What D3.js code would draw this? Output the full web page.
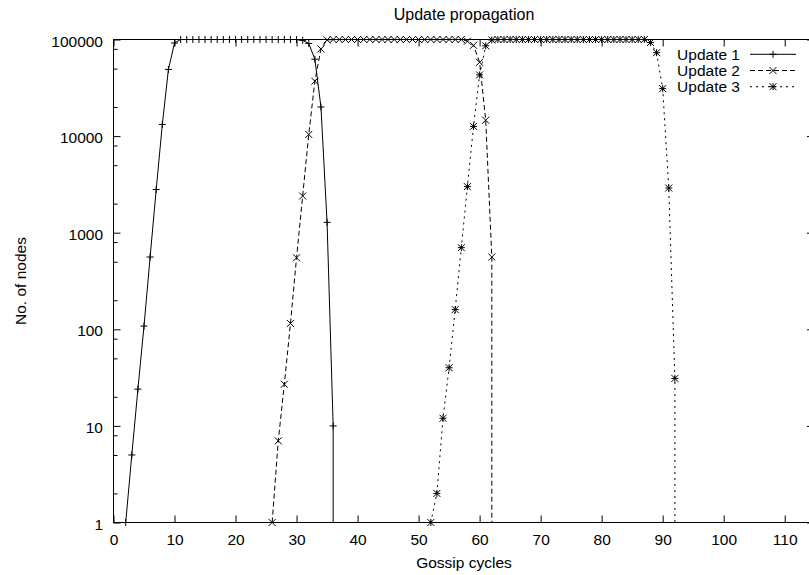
<!DOCTYPE html>
<html>
<head>
<meta charset="utf-8">
<script src="https://cdn.jsdelivr.net/npm/d3@7"></script>
<style>
  body { margin: 0; background: #fff; }
  svg { display: block; }
  text { font-family: "Liberation Sans", Arial, Helvetica, sans-serif; fill: #000; }
</style>
</head>
<body>
<svg id="chart" width="809" height="575"></svg>
<script>
// Labels
const titleText = "Update propagation";
const xLabelText = "Gossip cycles";
const yLabelText = "No. of nodes";
const seriesNames = ["Update 1", "Update 2", "Update 3"];

// Tick values
const xTicks = [0, 10, 20, 30, 40, 50, 60, 70, 80, 90, 100, 110];
const yTicks = [1, 10, 100, 1000, 10000, 100000];
const yMinorTicks = [2, 5, 8, 20, 50, 80, 200, 500, 800, 2000, 5000, 8000, 20000, 50000, 80000];

// Nodes reached per gossip cycle; each series begins at its start cycle
// and falls to zero right after its last listed cycle.
const update1Start = 2;
const update1Nodes = [
  1, 5, 24, 108, 560, 2800, 13200, 49000, 92000,
  100000, 100000, 100000, 100000, 100000, 100000, 100000, 100000, 100000, 100000,
  100000, 100000, 100000, 100000, 100000, 100000, 100000, 100000, 100000, 100000,
  98000, 91000, 62500, 20000, 1280, 10
];
const update2Start = 26;
const update2Nodes = [
  1, 7, 27, 115, 550, 2400, 10400, 37000, 80000, 99000,
  100000, 100000, 100000, 100000, 100000, 100000, 100000, 100000, 100000, 100000, 100000,
  100000, 100000, 100000, 100000, 100000, 100000, 100000, 100000, 100000, 100000, 100000,
  96000, 87000, 58000, 14600, 560
];
const update3Start = 52;
const update3Nodes = [
  1, 2, 12, 40, 160, 700, 3000, 12600, 43000, 86000, 99000,
  100000, 100000, 100000, 100000, 100000, 100000, 100000, 100000, 100000, 100000,
  100000, 100000, 100000, 100000, 100000, 100000, 100000, 100000, 100000, 100000,
  100000, 100000, 100000, 100000, 100000,
  93000, 73000, 31000, 2900, 31
];

const svg = d3.select("#chart");
const W = 809, H = 575;
const plot = { left: 113.5, right: 814, top: 39.5, bottom: 522.5 };

const x = d3.scaleLinear().domain([0, 114.8]).range([plot.left, plot.right]);
const y = d3.scaleLog().domain([1, 100000]).range([plot.bottom, plot.top]);

const fontSize = 15.5;
const majorLen = 7, minorLen = 4;

// Axes: labelled left and bottom, mirrored ticks on top and right
function styleAxis(g) {
  g.select(".domain").remove();
  g.selectAll("line").attr("stroke", "#000").attr("stroke-width", 1);
  g.selectAll("text").style("font-size", fontSize + "px");
}

svg.append("g")
  .attr("transform", `translate(0,${plot.bottom})`)
  .call(d3.axisBottom(x).tickValues(xTicks).tickFormat(d3.format("d"))
    .tickSizeInner(-majorLen).tickSizeOuter(0).tickPadding(11))
  .call(styleAxis)
  .call(g => g.selectAll("text").attr("font-family", null));

svg.append("g")
  .attr("transform", `translate(${plot.left},0)`)
  .call(d3.axisLeft(y).tickValues(yTicks).tickFormat(d3.format("d"))
    .tickSizeInner(-majorLen).tickSizeOuter(0).tickPadding(10.5))
  .call(styleAxis)
  .call(g => g.selectAll("text").attr("dy", "0.42em"));

svg.append("g")
  .attr("transform", `translate(${plot.left},0)`)
  .call(d3.axisLeft(y).tickValues(yMinorTicks).tickFormat("")
    .tickSizeInner(-minorLen).tickSizeOuter(0))
  .call(styleAxis);

svg.append("g")
  .attr("transform", `translate(0,${plot.top})`)
  .call(d3.axisTop(x).tickValues(xTicks).tickFormat("")
    .tickSizeInner(-majorLen).tickSizeOuter(0))
  .call(styleAxis);

svg.append("g")
  .attr("transform", `translate(${plot.right},0)`)
  .call(d3.axisRight(y).tickValues(yTicks).tickFormat("")
    .tickSizeInner(-majorLen).tickSizeOuter(0))
  .call(styleAxis);

svg.append("g")
  .attr("transform", `translate(${plot.right},0)`)
  .call(d3.axisRight(y).tickValues(yMinorTicks).tickFormat("")
    .tickSizeInner(-minorLen).tickSizeOuter(0))
  .call(styleAxis);

// Plot border
svg.append("rect")
  .attr("x", plot.left).attr("y", plot.top)
  .attr("width", plot.right - plot.left).attr("height", plot.bottom - plot.top)
  .attr("fill", "none").attr("stroke", "#000").attr("stroke-width", 1);

// Titles
svg.append("text")
  .attr("x", 464).attr("y", 19.5)
  .attr("text-anchor", "middle").style("font-size", "16px")
  .text(titleText);

svg.append("text")
  .attr("x", 464).attr("y", 568)
  .attr("text-anchor", "middle").style("font-size", fontSize + "px")
  .text(xLabelText);

svg.append("text")
  .attr("transform", "translate(26,281) rotate(-90)")
  .attr("text-anchor", "middle").style("font-size", fontSize + "px")
  .text(yLabelText);

// Point markers (gnuplot-style point types)
const ms = 3.5;
const markerPaths = [
  `M${-ms},0H${ms}M0,${-ms}V${ms}`,
  `M${-ms},${-ms}L${ms},${ms}M${-ms},${ms}L${ms},${-ms}`,
  `M${-ms},0H${ms}M0,${-ms}V${ms}M${-ms},${-ms}L${ms},${ms}M${-ms},${ms}L${ms},${-ms}`
];
const dashes = [null, "5,3", "2,4"];

const series = [
  { start: update1Start, nodes: update1Nodes },
  { start: update2Start, nodes: update2Nodes },
  { start: update3Start, nodes: update3Nodes }
].map(s => s.nodes.map((n, i) => ({ cycle: s.start + i, nodes: n })));

const line = d3.line()
  .x(d => x(d.cycle))
  .y(d => y(Math.max(d.nodes, y.domain()[0])));

series.forEach((pts, i) => {
  // after the last cycle the count is zero: drop to the floor of the log axis
  const last = pts[pts.length - 1];
  const path = pts.concat([{ cycle: last.cycle, nodes: 0 }]);
  svg.append("path")
    .datum(path)
    .attr("d", line)
    .attr("fill", "none")
    .attr("stroke", "#000")
    .attr("stroke-width", 1)
    .attr("stroke-dasharray", dashes[i]);

  svg.append("g").selectAll("path")
    .data(pts)
    .join("path")
    .attr("transform", d => `translate(${x(d.cycle)},${y(d.nodes)})`)
    .attr("d", markerPaths[i])
    .attr("fill", "none")
    .attr("stroke", "#000")
    .attr("stroke-width", 1);
});

// Legend
const legend = svg.append("g");
seriesNames.forEach((name, i) => {
  const cy = 54.3 + 16.2 * i;
  legend.append("text")
    .attr("x", 740).attr("y", cy + 5.3)
    .attr("text-anchor", "end").style("font-size", fontSize + "px")
    .text(name);
  legend.append("line")
    .attr("x1", 750).attr("x2", 796).attr("y1", cy).attr("y2", cy)
    .attr("stroke", "#000").attr("stroke-width", 1)
    .attr("stroke-dasharray", dashes[i]);
  legend.append("path")
    .attr("transform", `translate(773,${cy})`)
    .attr("d", markerPaths[i])
    .attr("fill", "none").attr("stroke", "#000").attr("stroke-width", 1);
});
</script>
</body>
</html>
